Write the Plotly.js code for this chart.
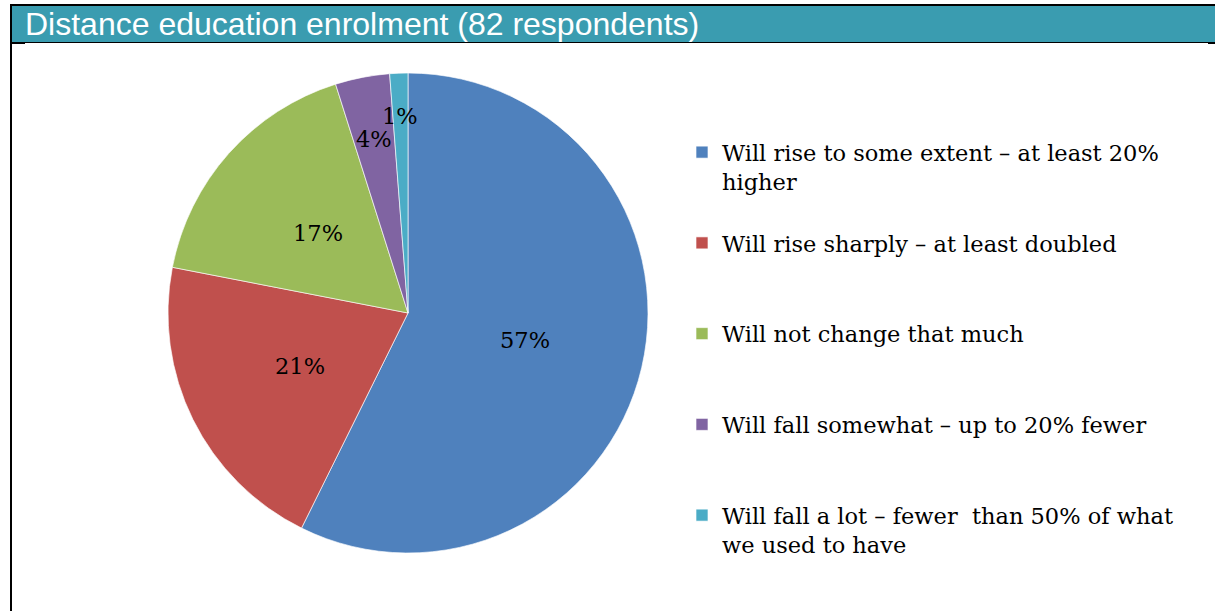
<!DOCTYPE html>
<html>
<head>
<meta charset="utf-8">
<script src="https://cdn.plot.ly/plotly-3.0.1.min.js"></script>
<style>html,body{margin:0;padding:0;background:#fff;}#chart{width:1215px;height:611px;}</style>
</head>
<body>
<div id="chart"></div>
<script>
// ---- data ----
const titleText = "Distance education enrolment (82 respondents)";
const categories = [
  "Will rise to some extent – at least 20%<br>higher",
  "Will rise sharply – at least doubled",
  "Will not change that much",
  "Will fall somewhat – up to 20% fewer",
  "Will fall a lot – fewer  than 50% of what<br>we used to have"
];
const counts = [47, 17, 14, 3, 1];
const colors = ["#4F81BD", "#C0504D", "#9BBB59", "#8064A2", "#4BACC6"];

// ---- layout helpers ----
const W = 1215, H = 611;
const px = x => x / W;
const py = y => 1 - y / H;
const cx = 408, cy = 313, R = 240;
const labelR = [0.5, 0.5, 0.5, 0.74, 0.82];
const serif = "DejaVu Serif";
const fs = 22.5;

// legend text: pad each entry to 3 lines for spacing
const legendLabels = categories.map((c, i) => {
  const n = c.split("<br>").length;
  let pad = "";
  if (i < categories.length - 1) for (let k = n; k < 3; k++) pad += "<br> ";
  return c + pad;
});

const total = counts.reduce((a, b) => a + b, 0);
let cum = 0;
const annotations = counts.map((v, i) => {
  const mid = (cum + v / 2) / total * 2 * Math.PI;
  cum += v;
  const r = R * labelR[i];
  return {
    xref: "paper", yref: "paper",
    x: px(cx + r * Math.sin(mid)),
    y: py(cy - r * Math.cos(mid)),
    text: Math.round(v / total * 100) + "%",
    showarrow: false, xanchor: "center", yanchor: "middle",
    font: {family: serif, size: fs, color: "#000"}
  };
});

const trace = {
  type: "pie",
  labels: legendLabels,
  values: counts,
  sort: false,
  direction: "clockwise",
  rotation: 0,
  textinfo: "none",
  hoverinfo: "label+percent",
  marker: {colors: colors, line: {color: "rgba(255,255,255,0.8)", width: 0.8}},
  domain: {x: [px(cx - R), px(cx + R)], y: [py(cy + R), py(cy - R)]}
};

const layout = {
  width: W, height: H,
  margin: {l: 0, r: 0, t: 0, b: 0},
  paper_bgcolor: "#fff",
  showlegend: true,
  legend: {
    x: px(682), xanchor: "left",
    y: py(131), yanchor: "top",
    valign: "top",
    font: {family: serif, size: fs, color: "#000"},
    bgcolor: "rgba(0,0,0,0)"
  },
  title: {
    text: titleText,
    font: {family: "Liberation Sans, Arial, sans-serif", size: 32, color: "#fff"},
    xref: "paper", yref: "paper",
    x: px(25), xanchor: "left",
    y: py(24), yanchor: "middle"
  },
  shapes: [
    {type: "rect", xref: "paper", yref: "paper", x0: px(12), x1: px(1215), y0: py(42), y1: py(6), fillcolor: "#3A9CB0", line: {width: 0}, layer: "below"},
    {type: "rect", xref: "paper", yref: "paper", x0: px(10), x1: px(1215), y0: py(6), y1: py(4), fillcolor: "#000", line: {width: 0}},
    {type: "rect", xref: "paper", yref: "paper", x0: px(10), x1: px(1215), y0: py(43), y1: py(42), fillcolor: "#000", line: {width: 0}},
    {type: "rect", xref: "paper", yref: "paper", x0: px(10), x1: px(25), y0: py(44), y1: py(42), fillcolor: "#000", line: {width: 0}},
    {type: "rect", xref: "paper", yref: "paper", x0: px(1208), x1: px(1215), y0: py(44), y1: py(42), fillcolor: "#000", line: {width: 0}},
    {type: "rect", xref: "paper", yref: "paper", x0: px(10), x1: px(12), y0: py(611), y1: py(4), fillcolor: "#000", line: {width: 0}}
  ],
  annotations: annotations
};

Plotly.newPlot("chart", [trace], layout, {displayModeBar: false, staticPlot: true});
</script>
</body>
</html>
